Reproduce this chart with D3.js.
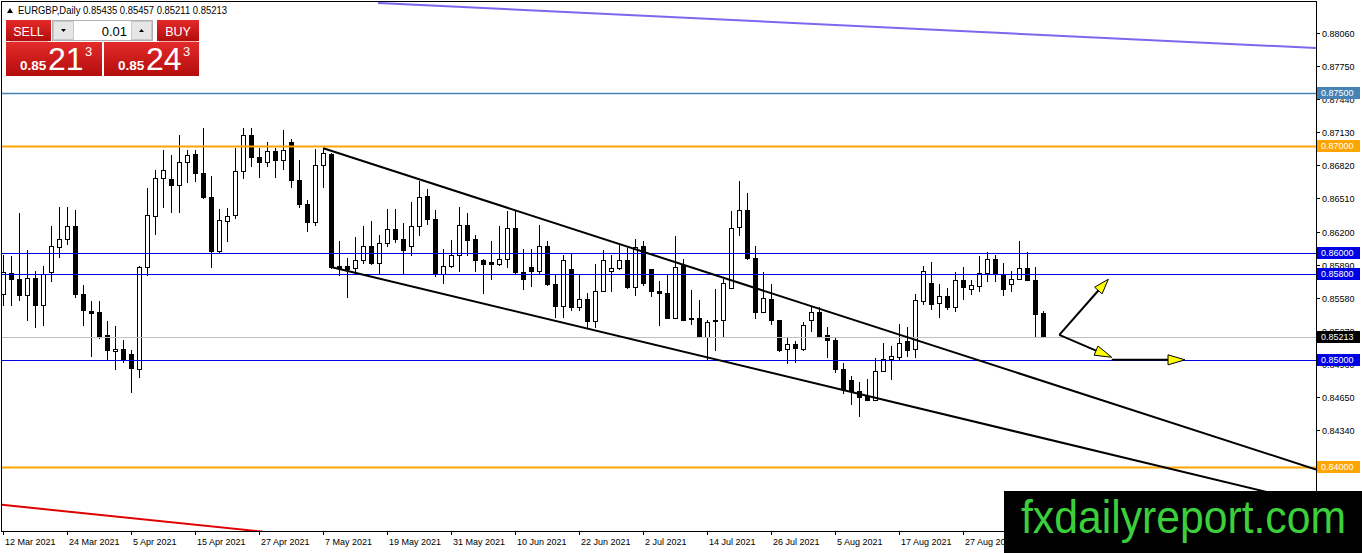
<!DOCTYPE html>
<html>
<head>
<meta charset="utf-8">
<script src="https://cdn.jsdelivr.net/npm/d3@7"></script>
<style>
  body { margin: 0; background: #fff; overflow: hidden; }
  svg { display: block; }
</style>
</head>
<body>
<script>
// EURGBP daily candles, 12 Mar 2021 onwards, one row per bar: [open, high, low, close]
const candles = [
  [0.8562,0.8598,0.8551,0.8582],[0.8581,0.8597,0.8551,0.8576],[0.8576,0.8637,0.8556,0.8561],[0.8561,0.8603,0.8537,0.8577],
  [0.8577,0.8583,0.8531,0.8551],[0.8551,0.8588,0.8533,0.8580],[0.8582,0.8625,0.8574,0.8607],[0.8606,0.8643,0.8596,0.8613],
  [0.8613,0.8643,0.8608,0.8625],[0.8625,0.8640,0.8559,0.8562],[0.8562,0.8570,0.8533,0.8547],[0.8546,0.8555,0.8504,0.8544],
  [0.8545,0.8555,0.8520,0.8522],[0.8523,0.8536,0.8500,0.8509],[0.8508,0.8532,0.8491,0.8510],[0.8510,0.8519,0.8498,0.8501],
  [0.8505,0.8509,0.8470,0.8492],[0.8491,0.8588,0.8484,0.8587],[0.8587,0.8661,0.8579,0.8636],[0.8635,0.8678,0.8618,0.8670],
  [0.8670,0.8696,0.8643,0.8678],[0.8669,0.8692,0.8638,0.8664],[0.8664,0.8710,0.8638,0.8685],[0.8685,0.8696,0.8666,0.8692],
  [0.8693,0.8696,0.8667,0.8675],[0.8675,0.8717,0.8651,0.8652],[0.8652,0.8672,0.8587,0.8602],[0.8602,0.8641,0.8600,0.8631],
  [0.8630,0.8642,0.8611,0.8635],[0.8636,0.8698,0.8633,0.8677],[0.8677,0.8717,0.8670,0.8710],[0.8710,0.8717,0.8681,0.8690],
  [0.8690,0.8698,0.8671,0.8685],[0.8685,0.8704,0.8681,0.8695],[0.8695,0.8698,0.8671,0.8687],[0.8687,0.8715,0.8679,0.8696],
  [0.8704,0.8707,0.8662,0.8668],[0.8668,0.8687,0.8643,0.8646],[0.8646,0.8650,0.8621,0.8629],[0.8629,0.8697,0.8626,0.8682],
  [0.8682,0.8698,0.8662,0.8694],[0.8693,0.8694,0.8586,0.8587],[0.8588,0.8611,0.8579,0.8586],[0.8588,0.8595,0.8559,0.8585],
  [0.8586,0.8615,0.8580,0.8593],[0.8593,0.8625,0.8591,0.8607],[0.8607,0.8630,0.8590,0.8591],[0.8591,0.8617,0.8580,0.8609],
  [0.8609,0.8641,0.8607,0.8622],[0.8622,0.8641,0.8610,0.8613],[0.8613,0.8628,0.8580,0.8603],[0.8607,0.8648,0.8598,0.8625],
  [0.8625,0.8667,0.8617,0.8652],[0.8653,0.8660,0.8627,0.8632],[0.8632,0.8640,0.8578,0.8580],[0.8580,0.8604,0.8572,0.8588],
  [0.8588,0.8612,0.8587,0.8598],[0.8598,0.8643,0.8583,0.8626],[0.8626,0.8637,0.8598,0.8612],[0.8613,0.8617,0.8583,0.8593],
  [0.8593,0.8594,0.8563,0.8590],[0.8592,0.8611,0.8576,0.8590],[0.8590,0.8625,0.8589,0.8594],[0.8594,0.8639,0.8587,0.8623],
  [0.8623,0.8640,0.8581,0.8582],[0.8582,0.8604,0.8566,0.8576],[0.8587,0.8604,0.8569,0.8583],[0.8583,0.8626,0.8581,0.8607],
  [0.8607,0.8611,0.8570,0.8571],[0.8571,0.8579,0.8540,0.8550],[0.8550,0.8598,0.8540,0.8593],[0.8585,0.8600,0.8547,0.8549],
  [0.8549,0.8580,0.8547,0.8557],[0.8557,0.8563,0.8530,0.8536],[0.8536,0.8590,0.8531,0.8564],[0.8564,0.8603,0.8564,0.8593],
  [0.8583,0.8598,0.8564,0.8586],[0.8586,0.8608,0.8585,0.8593],[0.8593,0.8605,0.8567,0.8568],[0.8568,0.8613,0.8561,0.8606],
  [0.8607,0.8611,0.8570,0.8572],[0.8585,0.8585,0.8560,0.8564],[0.8564,0.8574,0.8533,0.8563],[0.8563,0.8580,0.8539,0.8539],
  [0.8539,0.8616,0.8539,0.8587],[0.8589,0.8594,0.8537,0.8537],[0.8539,0.8565,0.8534,0.8538],[0.8539,0.8556,0.8521,0.8521],
  [0.8521,0.8537,0.8501,0.8535],[0.8537,0.8566,0.8509,0.8536],[0.8537,0.8576,0.8522,0.8572],[0.8567,0.8639,0.8567,0.8623],
  [0.8624,0.8667,0.8617,0.8640],[0.8640,0.8656,0.8594,0.8595],[0.8595,0.8607,0.8539,0.8545],[0.8545,0.8582,0.8545,0.8558],
  [0.8557,0.8571,0.8534,0.8537],[0.8537,0.8537,0.8508,0.8509],[0.8510,0.8521,0.8497,0.8515],[0.8515,0.8518,0.8498,0.8511],
  [0.8510,0.8535,0.8509,0.8533],[0.8537,0.8549,0.8527,0.8545],[0.8545,0.8549,0.8522,0.8522],[0.8523,0.8531,0.8503,0.8519],
  [0.8519,0.8521,0.8489,0.8491],[0.8491,0.8497,0.8469,0.8473],[0.8481,0.8485,0.8459,0.8471],[0.8471,0.8479,0.8447,0.8465],
  [0.8466,0.8482,0.8462,0.8462],[0.8462,0.8502,0.8462,0.8490],[0.8490,0.8516,0.8490,0.8501],[0.8501,0.8513,0.8482,0.8504],
  [0.8503,0.8534,0.8501,0.8516],[0.8518,0.8531,0.8504,0.8509],[0.8510,0.8562,0.8503,0.8556],[0.8555,0.8588,0.8552,0.8583],
  [0.8572,0.8592,0.8548,0.8552],[0.8553,0.8571,0.8540,0.8560],[0.8560,0.8567,0.8548,0.8549],[0.8549,0.8582,0.8546,0.8575],
  [0.8575,0.8587,0.8557,0.8568],[0.8566,0.8575,0.8562,0.8570],[0.8569,0.8597,0.8564,0.8581],[0.8581,0.8601,0.8574,0.8594],
  [0.8594,0.8598,0.8574,0.8580],[0.8580,0.8591,0.8561,0.8566],[0.8571,0.8583,0.8564,0.8576],[0.8576,0.8611,0.8576,0.8586],
  [0.8586,0.8601,0.8575,0.8575],[0.8575,0.8587,0.8522,0.8543],[0.85435,0.85457,0.85211,0.85213]
];

// date labels, one every 8 bars
const dateLabels = ["12 Mar 2021","24 Mar 2021","5 Apr 2021","15 Apr 2021","27 Apr 2021","7 May 2021",
  "19 May 2021","31 May 2021","10 Jun 2021","22 Jun 2021","2 Jul 2021","14 Jul 2021","26 Jul 2021",
  "5 Aug 2021","17 Aug 2021","27 Aug 2021","8 Sep 2021"];
const dateStep = 8;

const priceTicks = [0.88060,0.87750,0.87440,0.87130,0.86820,0.86510,0.86200,0.85890,
  0.85580,0.85270,0.84960,0.84650,0.84340,0.84030];

// horizontal levels drawn on the chart
const levelPrices = [0.875, 0.870, 0.860, 0.858, 0.850, 0.840];
const levelKinds  = ["steel", "orange", "blue", "blue", "blue", "orange"];
const lastPrice = 0.85213;

// trend lines as [bar index, price] pairs
const upperChannel = [[40.04, 0.86980], [164.125, 0.83974]];
const lowerChannel = [[40.875, 0.85872], [164.125, 0.83653]];
const purpleLine   = [[46.875, 0.88340], [164.125, 0.87918]];
const redLine      = [[-0.375, 0.83645], [32.5, 0.83392]];

// projection arrows
const arrowStart = [132.04, 0.85233];
const arrowUpEnd = [138.16, 0.85754];
const arrowDownEnd = [138.59, 0.85024];
const arrowFlat = [[138.59, 0.85000], [147.75, 0.85000]];

const W = 1362, H = 553;
const plot = { left: 2, top: 2, right: 1316, bottom: 531 };

const kindColor = { steel: "#4682b4", orange: "#ffa500", blue: "#0000e6" };
const kindWidth = { steel: 1.5, orange: 2, blue: 1.2 };
const fmt = d3.format(".5f");

const x = d3.scaleLinear().domain([-0.125, 164.125]).range([plot.left, plot.right]);
const y = d3.scaleLinear().domain([0.83398, 0.88349]).range([plot.bottom, plot.top]);

const svg = d3.select("body").append("svg")
  .attr("width", W).attr("height", H)
  .style("font-family", "'Liberation Sans', Arial, sans-serif");

svg.append("rect").attr("width", W).attr("height", H).attr("fill", "#fff");

svg.append("defs").append("clipPath").attr("id", "plotClip")
  .append("rect")
    .attr("x", plot.left).attr("y", plot.top)
    .attr("width", plot.right - plot.left).attr("height", plot.bottom - plot.top);

const chart = svg.append("g").attr("clip-path", "url(#plotClip)");

// candles
const bars = chart.append("g").attr("shape-rendering", "crispEdges");
candles.forEach(([o, h, l, c], i) => {
  const cx = Math.round(x(i));
  bars.append("line")
    .attr("x1", cx + 0.5).attr("x2", cx + 0.5)
    .attr("y1", Math.round(y(h))).attr("y2", Math.round(y(l)) + 1)
    .attr("stroke", "#000");
  const top = Math.round(y(Math.max(o, c)));
  const bot = Math.round(y(Math.min(o, c)));
  bars.append("rect")
    .attr("x", cx - 1.5).attr("y", top + 0.5)
    .attr("width", 4).attr("height", Math.max(bot - top, 0))
    .attr("fill", c >= o ? "#fff" : "#000")
    .attr("stroke", "#000");
});

// current price line
chart.append("line")
  .attr("x1", plot.left).attr("x2", plot.right)
  .attr("y1", Math.round(y(lastPrice)) + 0.5).attr("y2", Math.round(y(lastPrice)) + 0.5)
  .attr("stroke", "#c0c0c0");

// levels
levelPrices.forEach((p, k) => {
  const yy = Math.round(y(p)) + 0.5;
  chart.append("line")
    .attr("x1", plot.left).attr("x2", plot.right)
    .attr("y1", yy).attr("y2", yy)
    .attr("stroke", kindColor[levelKinds[k]])
    .attr("stroke-width", kindWidth[levelKinds[k]]);
});

const line = d3.line().x(d => x(d[0])).y(d => y(d[1]));

chart.append("path").datum(purpleLine).attr("d", line)
  .attr("fill", "none").attr("stroke", "#7b68ee").attr("stroke-width", 2);
chart.append("path").datum(redLine).attr("d", line)
  .attr("fill", "none").attr("stroke", "#e00000").attr("stroke-width", 2);
[upperChannel, lowerChannel].forEach(seg => {
  chart.append("path").datum(seg).attr("d", line)
    .attr("fill", "none").attr("stroke", "#000").attr("stroke-width", 2);
});

// arrows: black shaft, yellow head
function arrow(from, to, headLen) {
  const x1 = x(from[0]), y1 = y(from[1]), x2 = x(to[0]), y2 = y(to[1]);
  const ang = Math.atan2(y2 - y1, x2 - x1);
  const bx = x2 - headLen * Math.cos(ang), by = y2 - headLen * Math.sin(ang);
  chart.append("line")
    .attr("x1", x1).attr("y1", y1).attr("x2", bx).attr("y2", by)
    .attr("stroke", "#000").attr("stroke-width", 2);
  const hw = 5;
  const pts = [
    [x2, y2],
    [bx + hw * Math.sin(ang), by - hw * Math.cos(ang)],
    [bx - hw * Math.sin(ang), by + hw * Math.cos(ang)]
  ];
  chart.append("polygon")
    .attr("points", pts.map(p => p.join(",")).join(" "))
    .attr("fill", "#ffff00").attr("stroke", "#000").attr("stroke-width", 1);
}
arrow(arrowStart, arrowUpEnd, 15);
arrow(arrowStart, arrowDownEnd, 17);
arrow(arrowFlat[0], arrowFlat[1], 17);

// frame
svg.append("rect")
  .attr("x", plot.left - 0.5).attr("y", plot.top - 0.5)
  .attr("width", plot.right - plot.left + 1).attr("height", plot.bottom - plot.top + 1)
  .attr("fill", "none").attr("stroke", "#000").attr("shape-rendering", "crispEdges");

// right price axis
const yAxis = svg.append("g").attr("shape-rendering", "crispEdges");
priceTicks.forEach(p => {
  const yy = Math.round(y(p)) + 0.5;
  yAxis.append("line").attr("x1", plot.right).attr("x2", plot.right + 4)
    .attr("y1", yy).attr("y2", yy).attr("stroke", "#000");
  yAxis.append("text").attr("x", plot.right + 6).attr("y", yy)
    .attr("dy", "0.35em").attr("font-size", 9).attr("fill", "#000")
    .text(fmt(p));
});

// level tags on the axis
const tags = levelPrices.map((p, k) => ({ p, color: kindColor[levelKinds[k]] }))
  .concat([{ p: lastPrice, color: "#000" }]);
tags.forEach(t => {
  const yy = Math.round(y(t.p));
  svg.append("rect").attr("x", plot.right + 1).attr("y", yy - 6)
    .attr("width", 43).attr("height", 12).attr("fill", t.color);
  svg.append("text").attr("x", plot.right + 5).attr("y", yy)
    .attr("dy", "0.35em").attr("font-size", 9).attr("fill", "#fff")
    .text(fmt(t.p));
});

// bottom date axis
const xAxis = svg.append("g").attr("shape-rendering", "crispEdges");
dateLabels.forEach((lab, k) => {
  const xx = Math.round(x(k * dateStep)) + 0.5;
  xAxis.append("line").attr("x1", xx).attr("x2", xx)
    .attr("y1", plot.bottom).attr("y2", plot.bottom + 4).attr("stroke", "#000");
  xAxis.append("text").attr("x", xx + 1.5).attr("y", plot.bottom + 14)
    .attr("font-size", 9).attr("fill", "#000").text(lab);
});

// header line
svg.append("polygon").attr("points", "7,13 13,13 10,8").attr("fill", "#000");
svg.append("text").attr("x", 18).attr("y", 14)
  .attr("font-size", 10.5).attr("fill", "#000")
  .attr("textLength", 209).attr("lengthAdjust", "spacingAndGlyphs")
  .text("EURGBP,Daily  0.85435 0.85457 0.85211 0.85213");

// one-click trading panel
const defs = svg.select("defs");
const grad = defs.append("linearGradient").attr("id", "redGrad")
  .attr("x1", 0).attr("y1", 0).attr("x2", 0).attr("y2", 1);
grad.append("stop").attr("offset", "0%").attr("stop-color", "#e42a2a");
grad.append("stop").attr("offset", "100%").attr("stop-color", "#b30d0d");

const panel = svg.append("g");
panel.append("rect").attr("x", 6).attr("y", 20).attr("width", 45).attr("height", 21).attr("fill", "url(#redGrad)");
panel.append("rect").attr("x", 157).attr("y", 20).attr("width", 42).attr("height", 21).attr("fill", "url(#redGrad)");
panel.append("line").attr("x1", 10).attr("x2", 48).attr("y1", 41.5).attr("y2", 41.5).attr("stroke", "#f3b0b0");
panel.append("line").attr("x1", 159).attr("x2", 197).attr("y1", 41.5).attr("y2", 41.5).attr("stroke", "#f3b0b0");
panel.append("text").attr("x", 28.5).attr("y", 35.5).attr("text-anchor", "middle")
  .attr("font-size", 12.5).attr("fill", "#fff").text("SELL");
panel.append("text").attr("x", 178).attr("y", 35.5).attr("text-anchor", "middle")
  .attr("font-size", 12.5).attr("fill", "#fff").text("BUY");

panel.append("rect").attr("x", 52.5).attr("y", 20.5).attr("width", 100).attr("height", 20)
  .attr("fill", "#fff").attr("stroke", "#b0b0b0");
panel.append("rect").attr("x", 53.5).attr("y", 21.5).attr("width", 20).attr("height", 18)
  .attr("fill", "#e6e6e6").attr("stroke", "#c8c8c8");
panel.append("rect").attr("x", 131.5).attr("y", 21.5).attr("width", 20).attr("height", 18)
  .attr("fill", "#e6e6e6").attr("stroke", "#c8c8c8");
panel.append("polygon").attr("points", "61,29 66,29 63.5,32").attr("fill", "#000");
panel.append("polygon").attr("points", "139,32 144,32 141.5,29").attr("fill", "#000");
panel.append("text").attr("x", 127).attr("y", 35.5).attr("text-anchor", "end")
  .attr("font-size", 13).attr("fill", "#000").text("0.01");

[[6, 96, "21"], [104, 95, "24"]].forEach(([bx, bw, big]) => {
  panel.append("rect").attr("x", bx).attr("y", 42).attr("width", bw).attr("height", 34)
    .attr("fill", "url(#redGrad)");
  panel.append("text").attr("x", bx + 14).attr("y", 70)
    .attr("font-size", 13.5).attr("font-weight", "bold").attr("fill", "#fff").text("0.85");
  panel.append("text").attr("x", bx + 42).attr("y", 70)
    .attr("font-size", 32).attr("fill", "#fff").text(big);
  panel.append("text").attr("x", bx + 79).attr("y", 56)
    .attr("font-size", 13).attr("fill", "#fff").text("3");
});

// watermark
svg.append("rect").attr("x", 1004).attr("y", 491).attr("width", 358).attr("height", 62).attr("fill", "#000");
svg.append("text").attr("x", 1021).attr("y", 533)
  .attr("font-family", "'Liberation Sans Narrow', 'Liberation Sans', Arial, sans-serif")
  .attr("font-size", 46).attr("fill", "#3ccf3c")
  .attr("textLength", 325).attr("lengthAdjust", "spacingAndGlyphs")
  .text("fxdailyreport.com");
</script>
</body>
</html>
